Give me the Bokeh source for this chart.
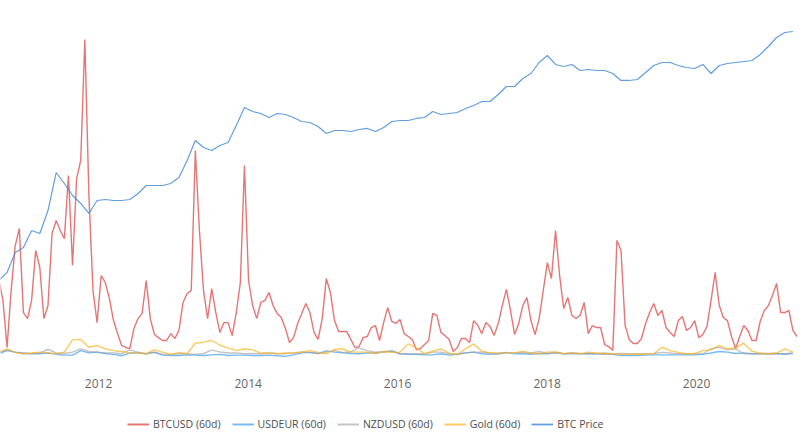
import pandas as pd
from bokeh.plotting import figure
from bokeh.layouts import column
from bokeh.models import (Range1d, LogScale, Legend, LegendItem, FixedTicker,
                          DatetimeTickFormatter)
from bokeh.embed import file_html
from bokeh.resources import INLINE

# ---------------- data ----------------
# 60-day volatility (%), sampled every 20 days from 2010-09-01
btcusd_vol = [
    3.84, 2.95, 0.85, 3.39, 5.40, 6.16, 2.41, 2.14, 2.95, 5.18,
    4.42, 2.14, 2.72, 5.94, 6.52, 6.07, 5.71, 8.53, 4.51, 8.39,
    9.20, 14.60, 7.63, 3.39, 1.96, 4.06, 3.75, 3.04, 2.05, 1.47,
    0.94, 0.85, 0.80, 1.70, 2.14, 2.37, 3.84, 2.14, 1.43, 1.29,
    1.16, 1.16, 1.47, 1.25, 1.61, 2.86, 3.26, 3.39, 9.64, 6.07,
    3.39, 2.14, 3.48, 2.41, 1.52, 1.96, 1.96, 1.38, 2.41, 3.75,
    8.97, 3.84, 2.72, 2.14, 2.86, 2.95, 3.30, 2.72, 2.37, 2.19,
    1.70, 1.07, 1.29, 1.92, 2.37, 2.81, 2.41, 1.52, 1.21, 2.14,
    3.93, 3.30, 2.05, 1.56, 1.56, 1.56, 1.21, 0.85, 0.89, 1.29,
    1.34, 1.74, 1.83, 1.16, 1.96, 2.63, 2.01, 1.92, 2.10, 1.47,
    1.34, 1.21, 0.76, 0.80, 0.98, 1.16, 2.37, 2.28, 1.52, 1.38,
    1.21, 0.67, 0.85, 1.25, 1.25, 1.07, 2.05, 1.83, 1.47, 1.96,
    1.79, 1.38, 1.92, 2.72, 3.44, 2.50, 1.43, 1.92, 2.72, 3.08,
    2.05, 1.43, 2.14, 3.39, 4.64, 3.93, 6.07, 4.06, 2.59, 3.08,
    2.28, 2.14, 2.28, 2.86, 1.47, 1.83, 1.74, 1.74, 0.98, 0.89,
    0.71, 5.63, 5.18, 1.83, 1.21, 1.03, 1.03, 1.25, 1.92, 2.41,
    2.81, 2.28, 2.50, 1.74, 1.52, 1.34, 2.05, 2.23, 1.61, 1.74,
    2.05, 1.29, 1.43, 1.79, 2.95, 4.20, 2.72, 2.19, 2.05, 1.34,
    0.80, 1.34, 1.83, 1.61, 1.16, 1.16, 2.01, 2.50, 2.72, 3.17,
    3.71, 2.41, 2.41, 2.50, 1.61, 1.34,
]

# sampled every 40 days from 2010-09-01
usdeur_vol = [
    0.57, 0.71, 0.64, 0.61, 0.57, 0.57, 0.60, 0.55, 0.51, 0.51,
    0.71, 0.61, 0.64, 0.58, 0.54, 0.48, 0.60, 0.60, 0.57, 0.63,
    0.51, 0.49, 0.49, 0.52, 0.51, 0.49, 0.52, 0.54, 0.49, 0.51,
    0.51, 0.49, 0.49, 0.51, 0.48, 0.45, 0.52, 0.61, 0.63, 0.58,
    0.70, 0.64, 0.61, 0.58, 0.57, 0.60, 0.61, 0.64, 0.70, 0.57,
    0.54, 0.54, 0.52, 0.52, 0.57, 0.51, 0.54, 0.61, 0.64, 0.57,
    0.55, 0.57, 0.63, 0.57, 0.57, 0.55, 0.58, 0.57, 0.63, 0.57,
    0.58, 0.57, 0.57, 0.57, 0.55, 0.54, 0.49, 0.49, 0.49, 0.51,
    0.52, 0.52, 0.52, 0.52, 0.52, 0.52, 0.54, 0.60, 0.67, 0.64,
    0.58, 0.61, 0.57, 0.57, 0.57, 0.58, 0.55, 0.58,
]
nzdusd_vol = [
    0.64, 0.74, 0.63, 0.57, 0.58, 0.60, 0.77, 0.61, 0.58, 0.64,
    0.79, 0.67, 0.64, 0.61, 0.61, 0.57, 0.74, 0.64, 0.57, 0.64,
    0.55, 0.54, 0.57, 0.57, 0.54, 0.58, 0.73, 0.65, 0.60, 0.61,
    0.57, 0.58, 0.57, 0.60, 0.58, 0.57, 0.60, 0.64, 0.63, 0.58,
    0.64, 0.71, 0.63, 0.65, 0.83, 0.71, 0.64, 0.67, 0.68, 0.57,
    0.57, 0.57, 0.57, 0.64, 0.64, 0.57, 0.57, 0.60, 0.64, 0.64,
    0.60, 0.57, 0.61, 0.61, 0.64, 0.60, 0.67, 0.58, 0.60, 0.57,
    0.60, 0.58, 0.57, 0.57, 0.60, 0.57, 0.58, 0.57, 0.57, 0.57,
    0.58, 0.63, 0.60, 0.57, 0.57, 0.57, 0.57, 0.79, 0.86, 0.74,
    0.79, 0.57, 0.57, 0.57, 0.58, 0.57, 0.57, 0.60,
]
gold_vol = [
    0.64, 0.79, 0.63, 0.57, 0.60, 0.64, 0.61, 0.57, 0.64, 1.19,
    1.21, 0.86, 0.94, 0.79, 0.71, 0.67, 0.61, 0.61, 0.57, 0.74,
    0.64, 0.54, 0.63, 0.57, 1.04, 1.09, 1.16, 0.95, 0.83, 0.71,
    0.79, 0.74, 0.60, 0.61, 0.57, 0.60, 0.61, 0.65, 0.71, 0.63,
    0.57, 0.76, 0.79, 0.64, 0.64, 0.64, 0.57, 0.67, 0.63, 0.64,
    1.01, 0.83, 0.57, 0.68, 0.79, 0.60, 0.52, 0.79, 1.01, 0.68,
    0.61, 0.61, 0.61, 0.61, 0.67, 0.60, 0.57, 0.64, 0.65, 0.57,
    0.61, 0.57, 0.64, 0.60, 0.57, 0.57, 0.54, 0.54, 0.55, 0.55,
    0.57, 0.86, 0.71, 0.63, 0.57, 0.58, 0.71, 0.74, 0.94, 0.79,
    0.83, 1.04, 0.68, 0.60, 0.57, 0.60, 0.79, 0.64,
]
# BTC price (USD), sampled every 40 days from 2010-09-01
btc_price = [
    0.070, 0.109, 0.325, 0.428, 1.09, 0.92, 3.25, 26.1, 14.3, 7.41,
    4.78, 2.76, 5.62, 5.94, 5.62, 5.62, 5.94, 8.26, 12.8, 12.8,
    12.8, 14.3, 19.9, 50.5, 151, 103, 87.3, 115, 135, 344,
    922, 741, 664, 533, 664, 628, 533, 428, 405, 325,
    222, 261, 261, 247, 276, 292, 247, 308, 428, 452,
    452, 505, 533, 741, 628, 664, 701, 873, 1028, 1282,
    1282, 1880, 2917, 2917, 4520, 5943, 10860, 15960, 9750, 8730,
    9750, 7010, 7410, 7010, 7010, 5943, 4055, 4055, 4280, 6280,
    9230, 10860, 10860, 9230, 8260, 7820, 9750, 5943, 9230, 10280,
    10860, 11480, 12130, 16870, 26120, 42760, 56230, 59430,
]
tick_years = [2012, 2014, 2016, 2018, 2020]
series_names = ["BTCUSD (60d)", "USDEUR (60d)", "NZDUSD (60d)", "Gold (60d)", "BTC Price"]
series_colors = ["#dc3b3b", "#3d9cf0", "#9c9c9c", "#ffb21f", "#3a86d8"]
series_alpha = [0.7, 0.7, 0.6, 0.7, 0.8]
series_width = [1.4, 1.4, 1.4, 1.4, 1.2]

dates20 = pd.date_range("2010-09-01", periods=len(btcusd_vol), freq="20D")
dates40 = pd.date_range("2010-09-01", periods=len(usdeur_vol), freq="40D")
tick_ms = [pd.Timestamp(year=y, month=1, day=1).value // 10**6 for y in tick_years]

# ---------------- main chart ----------------
p = figure(
    frame_width=800, frame_height=366,
    x_axis_type="datetime", y_axis_location=None,
    x_range=Range1d(pd.Timestamp("2010-09-09"), pd.Timestamp("2021-05-23")),
    y_range=Range1d(0, 16.34),
    output_backend="svg", toolbar_location=None,
    min_border_left=0, min_border_right=0, min_border_top=0, min_border_bottom=40,
    outline_line_color=None,
)
p.extra_y_ranges = {"price": Range1d(10 ** -3.202, 10 ** 5.512)}
p.extra_y_scales = {"price": LogScale()}
p.xgrid.grid_line_color = None
p.ygrid.grid_line_color = None

ax = p.xaxis[0]
ax.ticker = FixedTicker(ticks=tick_ms)
ax.formatter = DatetimeTickFormatter(years="%Y", months="%Y", days="%Y")
ax.axis_line_color = None
ax.major_tick_line_color = None
ax.minor_tick_line_color = None
ax.major_tick_out = 0
ax.major_tick_in = 0
ax.major_label_standoff = 12
ax.major_label_text_font = "Open Sans"
ax.major_label_text_font_size = "12px"
ax.major_label_text_color = "#666666"

series = [(dates20, btcusd_vol, "default"), (dates40, usdeur_vol, "default"),
          (dates40, nzdusd_vol, "default"), (dates40, gold_vol, "default"),
          (dates40, btc_price, "price")]
for (xs, ys, rng), c, a, w in zip(series, series_colors, series_alpha, series_width):
    p.line(xs, ys, y_range_name=rng, line_color=c, line_alpha=a, line_width=w)

# ---------------- legend strip (same line styles as the series) ----------------
p2 = figure(
    frame_width=800, frame_height=39,
    x_range=Range1d(0, 1), y_range=Range1d(0, 1),
    x_axis_location=None, y_axis_location=None,
    output_backend="svg", toolbar_location=None,
    min_border_left=0, min_border_right=0, min_border_top=0, min_border_bottom=0,
    outline_line_color=None,
)
p2.xgrid.grid_line_color = None
p2.ygrid.grid_line_color = None
nan = float("nan")
keys = [p2.line(x=[nan, nan], y=[nan, nan], line_color=c, line_alpha=a, line_width=w + 0.6)
        for c, a, w in zip(series_colors, series_alpha, series_width)]
legend = Legend(
    items=[LegendItem(label=n, renderers=[r]) for n, r in zip(series_names, keys)],
    orientation="horizontal", location=(127, 11),
    margin=0, padding=0, spacing=11,
    glyph_width=22, glyph_height=20, label_height=20, label_standoff=4,
    label_text_font="Open Sans", label_text_font_size="10.5px", label_text_color="#4d4d4d",
    border_line_color=None, background_fill_alpha=0,
)
p2.add_layout(legend)

layout = column(p, p2, spacing=0)
open("out.html", "w").write(file_html(layout, INLINE))
